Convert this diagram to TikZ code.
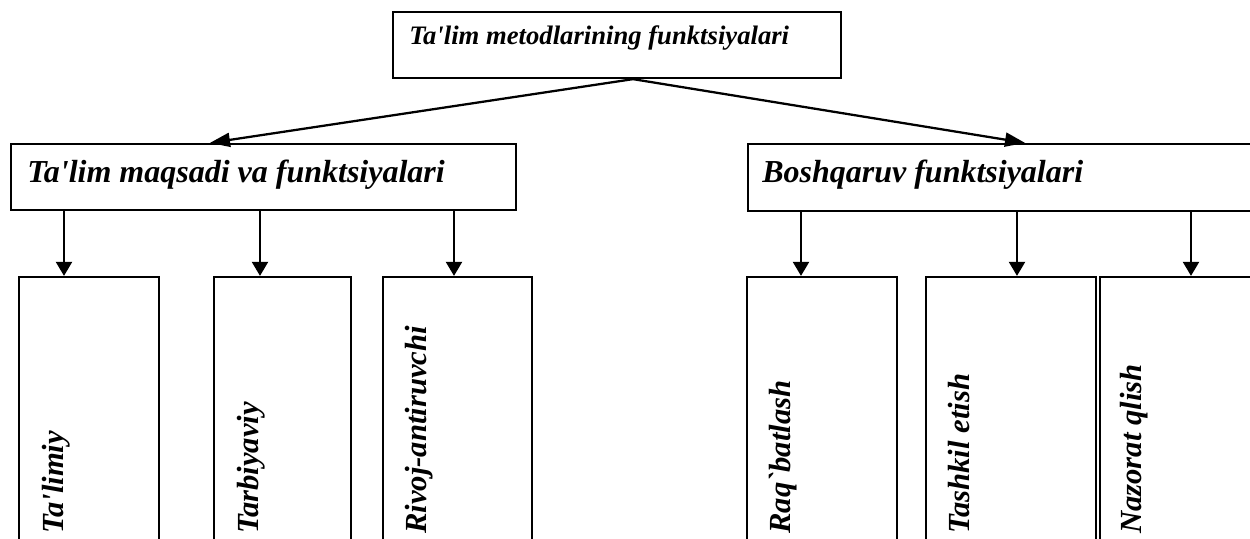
\documentclass[tikz,border=0pt]{standalone}
\usepackage{fontspec}
\newfontfamily\tnr{Liberation Serif}
\usetikzlibrary{arrows.meta,fit}
\begin{document}
\begin{tikzpicture}[x=0.75pt,y=-0.75pt,
  box/.style={draw,line width=1.7pt,inner sep=0pt},
  toplbl/.style={inner sep=0pt,anchor=base west,font=\tnr\fontsize{20}{24}\bfseries\itshape\selectfont},
  midlbl/.style={inner sep=0pt,anchor=base west,font=\tnr\fontsize{24}{28}\bfseries\itshape\selectfont},
  vlbl/.style={inner sep=0pt,anchor=base west,rotate=90,font=\tnr\fontsize{23}{27}\bfseries\itshape\selectfont},
  darr/.style={line width=1.7pt,-{Triangle[length=15pt,width=10.5pt]}},
  varr/.style={line width=1.7pt,-{Triangle[length=10.5pt,width=12pt]}}
]
\clip (0,0) rectangle (1250,539);
% boxes
\node[box,fit={(393,12) (841,78)}] (top) {};
\node[box,fit={(11,144) (516,210)}] (lb) {};
\node[box,fit={(748,144) (1275,211)}] (rb) {};
\node[box,fit={(19,277) (159,580)}] (c1) {};
\node[box,fit={(214,277) (351,580)}] (c2) {};
\node[box,fit={(383,277) (532,580)}] (c3) {};
\node[box,fit={(747,277) (897,580)}] (c4) {};
\node[box,fit={(926,277) (1096,580)}] (c5) {};
\node[box,fit={(1100,277) (1275,580)}] (c6) {};
% labels
\node[toplbl] (ttop) at (409,44) {Ta\symbol{39}lim metodlarining funktsiyalari};
\node[midlbl] (tlb) at (27,182) {Ta\symbol{39}lim maqsadi va funktsiyalari};
\node[midlbl] (trb) at (762,182) {Boshqaruv funktsiyalari};
\node[vlbl] (t1) at (63,534) {Ta\symbol{39}limiy};
\node[vlbl] (t2) at (258,534) {Tarbiyaviy};
\node[vlbl] (t3) at (426,534) {Rivoj-antiruvchi};
\node[vlbl] (t4) at (790,534) {Raq\symbol{96}batlash};
\node[vlbl] (t5) at (969,534) {Tashkil etish};
\node[vlbl] (t6) at (1141,534) {Nazorat qlish};
% connector x positions
\coordinate (xa) at (633,0);
\coordinate (xl) at (210,0);
\coordinate (xr) at (1025,0);
\coordinate (x1) at (64,0);
\coordinate (x2) at (260,0);
\coordinate (x3) at (454,0);
\coordinate (x4) at (801,0);
\coordinate (x5) at (1017,0);
\coordinate (x6) at (1191,0);
% connectors
\draw[darr] (top.south -| xa) -- (lb.north -| xl);
\draw[darr] (top.south -| xa) -- (rb.north -| xr);
\draw[varr] (lb.south -| x1) -- (c1.north -| x1);
\draw[varr] (lb.south -| x2) -- (c2.north -| x2);
\draw[varr] (lb.south -| x3) -- (c3.north -| x3);
\draw[varr] (rb.south -| x4) -- (c4.north -| x4);
\draw[varr] (rb.south -| x5) -- (c5.north -| x5);
\draw[varr] (rb.south -| x6) -- (c6.north -| x6);
\end{tikzpicture}
\end{document}
